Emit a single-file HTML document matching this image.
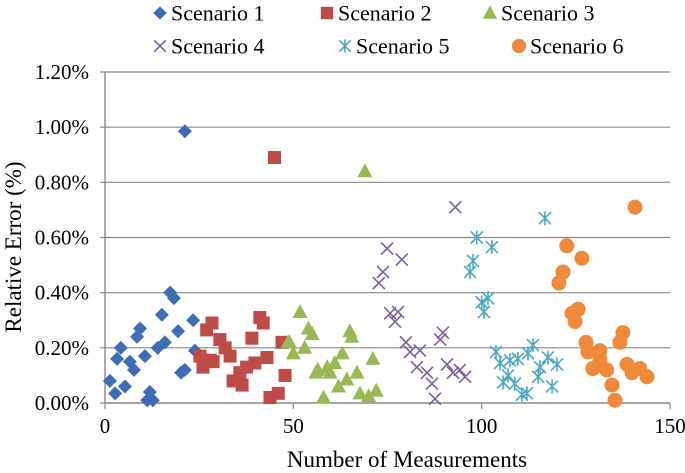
<!DOCTYPE html>
<html><head><meta charset="utf-8"><style>
html,body{margin:0;padding:0;background:#fff;}
svg{display:block;font-family:"Liberation Serif",serif;}
</style></head><body>
<svg id="chart" width="685" height="473" viewBox="0 0 685 473" xmlns="http://www.w3.org/2000/svg"></svg>
<script>
const xTicks=[0,50,100,150];
const yTicks=[0,0.2,0.4,0.6,0.8,1.0,1.2];
const yTickLabels=["0.00%","0.20%","0.40%","0.60%","0.80%","1.00%","1.20%"];
const seriesNames=["Scenario 1","Scenario 2","Scenario 3","Scenario 4","Scenario 5","Scenario 6"];
const s1x=[1.3,2.7,3.2,4.2,5.3,6.6,7.7,8.5,9.3,10.6,11.9,12.7,11.2,14,15.1,15.9,17.3,18.3,19.4,20.2,21.2,23.4,23.9,21.2];
const s1y=[0.08,0.035,0.16,0.2,0.06,0.15,0.12,0.24,0.27,0.17,0.04,0.01,0.01,0.2,0.32,0.22,0.4,0.38,0.26,0.11,0.12,0.3,0.19,0.985];
const s2x=[45,28.4,27,25.2,26,28.7,30.5,31.9,33.2,34,36.4,35.8,37.6,39.8,41.1,42,39,43,47,47.8,43.8,46,27.9];
const s2y=[0.89,0.29,0.265,0.17,0.13,0.15,0.23,0.2,0.17,0.08,0.065,0.11,0.13,0.145,0.31,0.29,0.235,0.165,0.22,0.1,0.02,0.035,0.155];
const s3x=[69,51.8,54,55,49,50,53,56.5,59,59.7,61,63,64.2,62,58,65,65.5,66.9,67.7,70,72,71.1,48.6,56];
const s3y=[0.84,0.33,0.27,0.25,0.22,0.18,0.2,0.12,0.13,0.11,0.145,0.18,0.085,0.06,0.02,0.26,0.24,0.11,0.035,0.025,0.045,0.16,0.22,0.11];
const s4x=[93,74.9,78.8,73.8,72.7,75.7,77.8,77,79.9,81,83.6,82.8,85.5,86.8,87.6,89,89.7,90.8,92.4,94.2,95.6];
const s4y=[0.71,0.56,0.52,0.475,0.435,0.325,0.33,0.295,0.22,0.185,0.19,0.13,0.11,0.07,0.015,0.23,0.255,0.14,0.11,0.12,0.095];
const s5x=[116.8,98.7,102.7,97.7,96.9,100,101.7,100.6,103.8,104.9,105.7,107,107.5,109.6,108.8,110.7,112,112.3,113.6,115.5,115,117.6,120,118.7];
const s5y=[0.67,0.6,0.565,0.515,0.475,0.365,0.38,0.33,0.185,0.145,0.075,0.1,0.155,0.16,0.07,0.03,0.035,0.18,0.21,0.13,0.095,0.165,0.14,0.06];
const s6x=[140.7,122.6,126.6,121.6,120.5,125.6,124,124.8,127.7,128.2,131.4,137.5,136.7,129.5,133.2,134.6,135.4,138.6,139.9,142,143.9,131.4];
const s6y=[0.71,0.57,0.525,0.475,0.435,0.34,0.325,0.295,0.22,0.185,0.19,0.255,0.22,0.125,0.12,0.065,0.01,0.14,0.11,0.125,0.095,0.155];

const svg=document.getElementById('chart');
const NS='http://www.w3.org/2000/svg';
const L=105,R=670,T=72,B=403;
const xs=v=>L+(v/150)*(R-L);
const ys=v=>B-(v/1.2)*(B-T);
function mk(tag,attrs,parent){const e=document.createElementNS(NS,tag);for(const k in attrs)e.setAttribute(k,attrs[k]);(parent||svg).appendChild(e);return e;}
const colorsD=["#3e6db5","#be4b48","#98b954","#7d5fa0","#4aa8c2","#f08a3a"];
function marker(type,x,y,g,s){
  s=s||1;let e;
  if(type===0){e=mk('polygon',{points:`${x},${y-7*s} ${x+7*s},${y} ${x},${y+7*s} ${x-7*s},${y}`,fill:colorsD[0]},g);}
  else if(type===1){e=mk('rect',{x:x-6.5*s,y:y-6.5*s,width:13*s,height:13*s,fill:colorsD[1]},g);}
  else if(type===2){e=mk('polygon',{points:`${x},${y-8*s} ${x+7.5*s},${y+6*s} ${x-7.5*s},${y+6*s}`,fill:colorsD[2]},g);}
  else if(type===3){e=mk('path',{d:`M${x-6*s},${y-6*s}L${x+6*s},${y+6*s}M${x+6*s},${y-6*s}L${x-6*s},${y+6*s}`,stroke:colorsD[3],'stroke-width':1.6,fill:'none'},g);}
  else if(type===4){e=mk('path',{d:`M${x-6*s},${y-6*s}L${x+6*s},${y+6*s}M${x+6*s},${y-6*s}L${x-6*s},${y+6*s}M${x},${y-7*s}L${x},${y+7*s}`,stroke:colorsD[4],'stroke-width':1.6,fill:'none'},g);}
  else {e=mk('circle',{cx:x,cy:y,r:7.5*s,fill:colorsD[5]},g);}
  return e;
}
yTicks.forEach((t,i)=>{
  const y=ys(t);
  if(i>0){const gl=mk('line',{x1:L,x2:R,y1:y,y2:y,stroke:'#888','stroke-width':1.2});
  
  }
  mk('line',{x1:L-5,x2:L,y1:y,y2:y,stroke:'#888','stroke-width':1.2});
  const tx=mk('text',{x:89,y:y+7,'text-anchor':'end','font-size':21,fill:'#000'});
  tx.textContent=yTickLabels[i];
  
  
});
const xa=mk('line',{x1:L,x2:R,y1:B,y2:B,stroke:'#888','stroke-width':1.4});


const ya=mk('line',{x1:L,x2:L,y1:T,y2:B,stroke:'#888','stroke-width':1.4});


xTicks.forEach(t=>{
  const x=xs(t);
  mk('line',{x1:x,x2:x,y1:B,y2:B+6,stroke:'#888','stroke-width':1.2});
  const tx=mk('text',{x:x,y:433,'text-anchor':'middle','font-size':21,fill:'#000'});
  tx.textContent=t;
  
  
});
const xt=mk('text',{x:407,y:467,'text-anchor':'middle','font-size':23,fill:'#000'});
xt.textContent='Number of Measurements';


const yt=mk('text',{x:0,y:0,'text-anchor':'middle','font-size':23,fill:'#000',transform:'translate(21,247) rotate(-90)'});
yt.textContent='Relative Error (%)';



const allX=[s1x,s2x,s3x,s4x,s5x,s6x],allY=[s1y,s2y,s3y,s4y,s5y,s6y];
allX.forEach((arr,si)=>{
  const g=mk('g',{});
  
  
  arr.forEach((v,i)=>{
    const m=marker(si,xs(v),ys(allY[si][i]),g);
    
    
  });
});
const legPos=[[160,13],[327,13],[490,13],[160,46],[345,46],[519,46]];
seriesNames.forEach((n,i)=>{
  const g=mk('g',{});
  
  
  marker(i,legPos[i][0],legPos[i][1],g,0.95);
  const tx=mk('text',{x:legPos[i][0]+11,y:legPos[i][1]+7.5,'font-size':22,fill:'#000'},g);
  tx.textContent=n;
});
</script>
</body></html>
